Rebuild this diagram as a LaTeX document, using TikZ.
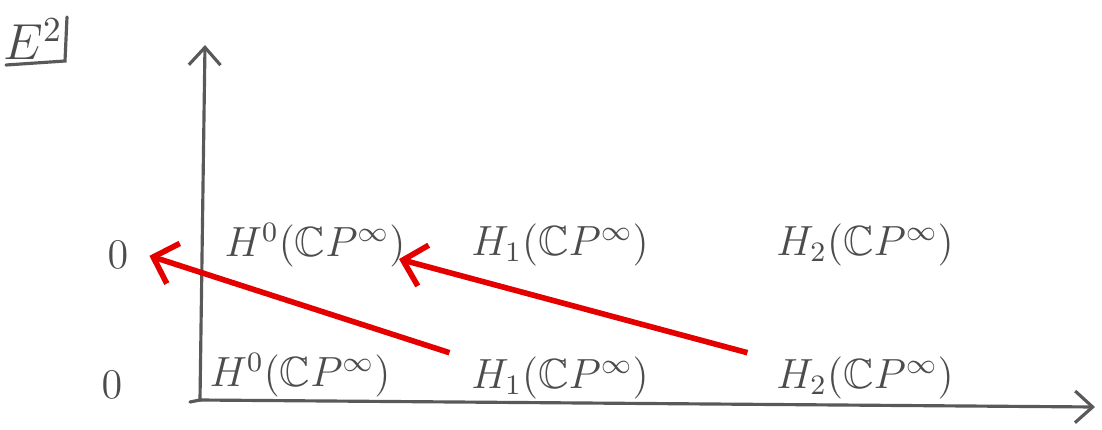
\documentclass[tikz,border=0pt]{standalone}
\usepackage{amsmath,amssymb}
\usetikzlibrary{arrows.meta}
\begin{document}
\begin{tikzpicture}
  \tikzset{
    pencil/.style={draw=black!65, line width=0.9pt, line cap=round},
    axe/.style={pencil, -{Straight Barb[length=5pt,width=9pt]}},
    entry/.style={text=black!70, font=\large, inner sep=2pt},
    diff/.style={draw=red!90!black, line width=1.6pt, -{Straight Barb[length=6pt,width=12pt]}},
  }
  \useasboundingbox (0,0) rectangle (11.02,4.29);

  % title
  \node[entry, font=\Large] (page) at (0.33,3.9) {$E^2$};
  \draw[pencil] (0.06,3.64) -- (0.65,3.68) -- (0.67,4.12);

  % axes
  \coordinate (o) at (2.0,0.29);
  \coordinate (ytop) at (2.05,3.84);
  \coordinate (xend) at (10.95,0.22);
  \draw[axe] (1.9,0.27) -- (o) -- (ytop);
  \draw[axe] (o) -- (xend);

  % row labels
  \node[entry] (zt) at (1.18,1.74) {$0$};
  \node[entry] (zb) at (1.12,0.44) {$0$};

  % entries
  \foreach \n/\x/\y/\t in {
    t0/3.15/1.84/H^0,
    t1/5.6/1.84/H_1,
    t2/8.65/1.84/H_2,
    b0/3.0/0.54/H^0,
    b1/5.6/0.51/H_1,
    b2/8.65/0.51/H_2
  }{
    \node[entry] (\n) at (\x,\y) {$\t(\mathbb{C}P^\infty)$};
  }

  % differentials
  \draw[diff, shorten >=4pt] ([xshift=-4pt,yshift=-1pt]b1.north west) -- ([yshift=1pt]zt.east);
  \draw[diff] ([xshift=-6pt,yshift=-1pt]b2.north west) -- ([xshift=-4pt,yshift=-4pt]t0.east);
\end{tikzpicture}
\end{document}
